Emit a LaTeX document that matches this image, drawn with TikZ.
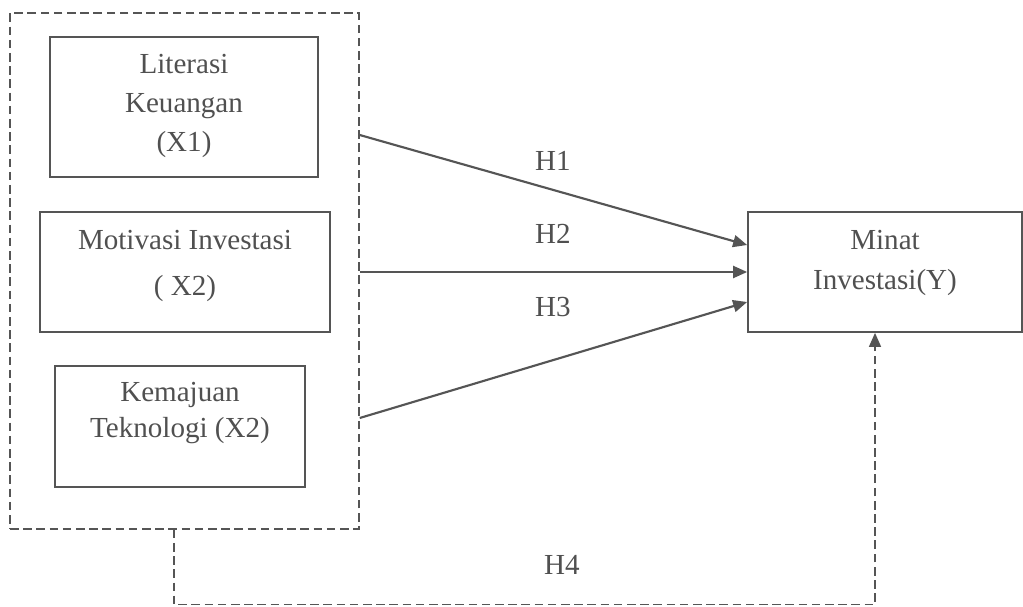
\documentclass[tikz,border=0pt]{standalone}
\usepackage{fontspec}
\setmainfont{Liberation Serif}
\usetikzlibrary{arrows.meta,calc}
\definecolor{linegray}{HTML}{555555}
\definecolor{textgray}{HTML}{505050}
\tikzset{
	box/.style={draw=linegray,line width=1.3pt,inner sep=0pt},
	group/.style={draw=linegray,line width=1.1pt,dash pattern=on 6.5pt off 3.4pt,inner sep=0pt},
	txt/.style={text=textgray,align=center,inner sep=0pt,font=\fontsize{21.8}{29.5}\selectfont},
	hyp/.style={draw=linegray,line width=1.6pt,-{Triangle[length=10.5pt,width=9pt]}},
	hypdash/.style={draw=linegray,line width=1.1pt,dash pattern=on 6.5pt off 3.4pt,-{Triangle[length=10.5pt,width=9pt]}}
}
\begin{document}
\begin{tikzpicture}[x=0.75pt,y=-0.75pt]
		\useasboundingbox (0,0) rectangle (1023,606);
		% variabel bebas
		\node[group,minimum width=261.75pt,minimum height=387pt] (grp) at (184.5,271) {};
		\node[box,minimum width=201pt,minimum height=105pt] (x1) at (184,107) {};
		\node[box,minimum width=217.5pt,minimum height=90pt] (x2) at (185,272) {};
		\node[box,minimum width=187.5pt,minimum height=90.75pt] (x3) at (180,426.5) {};
		\node[txt] (x1txt) at ($(x1.center)+(0,-1)$) {Literasi\\Keuangan\\(X1)};
		\node[txt] (x2txt) at ($(x2.center)+(0,-6)$) {Motivasi Investasi\\[5.5pt]( X2)};
		\node[txt] (x3txt) at ($(x3.center)+(0,-13)$) {Kemajuan\\[-2.5pt]Teknologi (X2)};
		% variabel terikat
		\node[box,minimum width=205.5pt,minimum height=90pt] (y) at (885,272) {};
		\node[txt] (ytxt) at ($(y.center)+(0,-9)$) {Minat\\[0.5pt]Investasi(Y)};
		% hipotesis
		\draw[hyp] ($(grp.east)+(0,-136)$) -- ($(y.west)+(0,-27)$);
		\draw[hyp] ($(grp.east)+(0,1)$) -- ($(y.west)+(0,0)$);
		\draw[hyp] ($(grp.east)+(0,147)$) -- ($(y.west)+(0,30)$);
		\draw[hypdash] ($(grp.south)+(-10.5,0)$) -- ++(0,75) -| ($(y.south)+(-10,0)$);
		\node[txt] (h1) at (553,161) {H1};
		\node[txt] (h2) at (553,234) {H2};
		\node[txt] (h3) at (553,307) {H3};
		\node[txt] (h4) at (562,565) {H4};
		\end{tikzpicture}
\end{document}
